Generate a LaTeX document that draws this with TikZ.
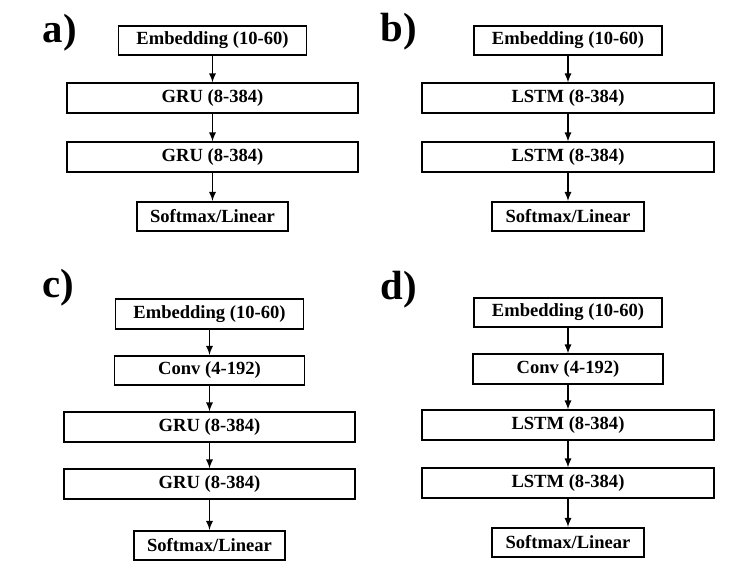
\documentclass[tikz,border=0pt]{standalone}
\usepackage{fontspec}
\setmainfont{Liberation Serif}
\usepackage{tikz}

\tikzset{
    layer/.style={draw, line width=1.3pt, minimum height=0.73cm, inner sep=0pt,
        font=\fontsize{13.2}{15}\selectfont\bfseries},
    embed/.style={layer, minimum width=4.7cm},
    conv/.style={layer, minimum width=4.75cm},
    rnn/.style={layer, minimum width=7.28cm},
    outp/.style={layer, minimum width=3.78cm},
    panel/.style={anchor=base west, inner sep=0pt, font=\fontsize{29}{32}\selectfont\bfseries}
}

\begin{document}
\begin{tikzpicture}[x=0.025cm, y=-0.025cm, >=latex, ->, line width=1.2pt]
    \useasboundingbox (0,0) rectangle (751,583);

    % a)
    \node[panel] (la) at (42,43) {a)};
    \node[embed] (a0) at (212.5,40.5) {Embedding (10-60)};
    \node[rnn] (a1) at (212.5,98) {GRU (8-384)};
    \node[rnn] (a2) at (212.5,157) {GRU (8-384)};
    \node[outp] (a3) at (212.5,216.5) {Softmax/Linear};
    \draw(a0)--(a1);
    \draw(a1)--(a2);
    \draw(a2)--(a3);

    % b)
    \node[panel] (lb) at (380,42) {b)};
    \node[embed] (b0) at (568,40.5) {Embedding (10-60)};
    \node[rnn] (b1) at (568,98) {LSTM (8-384)};
    \node[rnn] (b2) at (568,157) {LSTM (8-384)};
    \node[outp] (b3) at (568,216.5) {Softmax/Linear};
    \draw(b0)--(b1);
    \draw(b1)--(b2);
    \draw(b2)--(b3);

    % c)
    \node[panel] (lc) at (42,298) {c)};
    \node[embed] (c0) at (209.5,314) {Embedding (10-60)};
    \node[conv] (c1) at (209.5,370.5) {Conv (4-192)};
    \node[rnn] (c2) at (209.5,427) {GRU (8-384)};
    \node[rnn] (c3) at (209.5,484) {GRU (8-384)};
    \node[outp] (c4) at (209.5,545.5) {Softmax/Linear};
    \draw(c0)--(c1);
    \draw(c1)--(c2);
    \draw(c2)--(c3);
    \draw(c3)--(c4);

    % d)
    \node[panel] (ld) at (380,300) {d)};
    \node[embed] (d0) at (568,312.5) {Embedding (10-60)};
    \node[conv] (d1) at (568,369) {Conv (4-192)};
    \node[rnn] (d2) at (568,425) {LSTM (8-384)};
    \node[rnn] (d3) at (568,483) {LSTM (8-384)};
    \node[outp] (d4) at (568,542.5) {Softmax/Linear};
    \draw(d0)--(d1);
    \draw(d1)--(d2);
    \draw(d2)--(d3);
    \draw(d3)--(d4);
\end{tikzpicture}
\end{document}
